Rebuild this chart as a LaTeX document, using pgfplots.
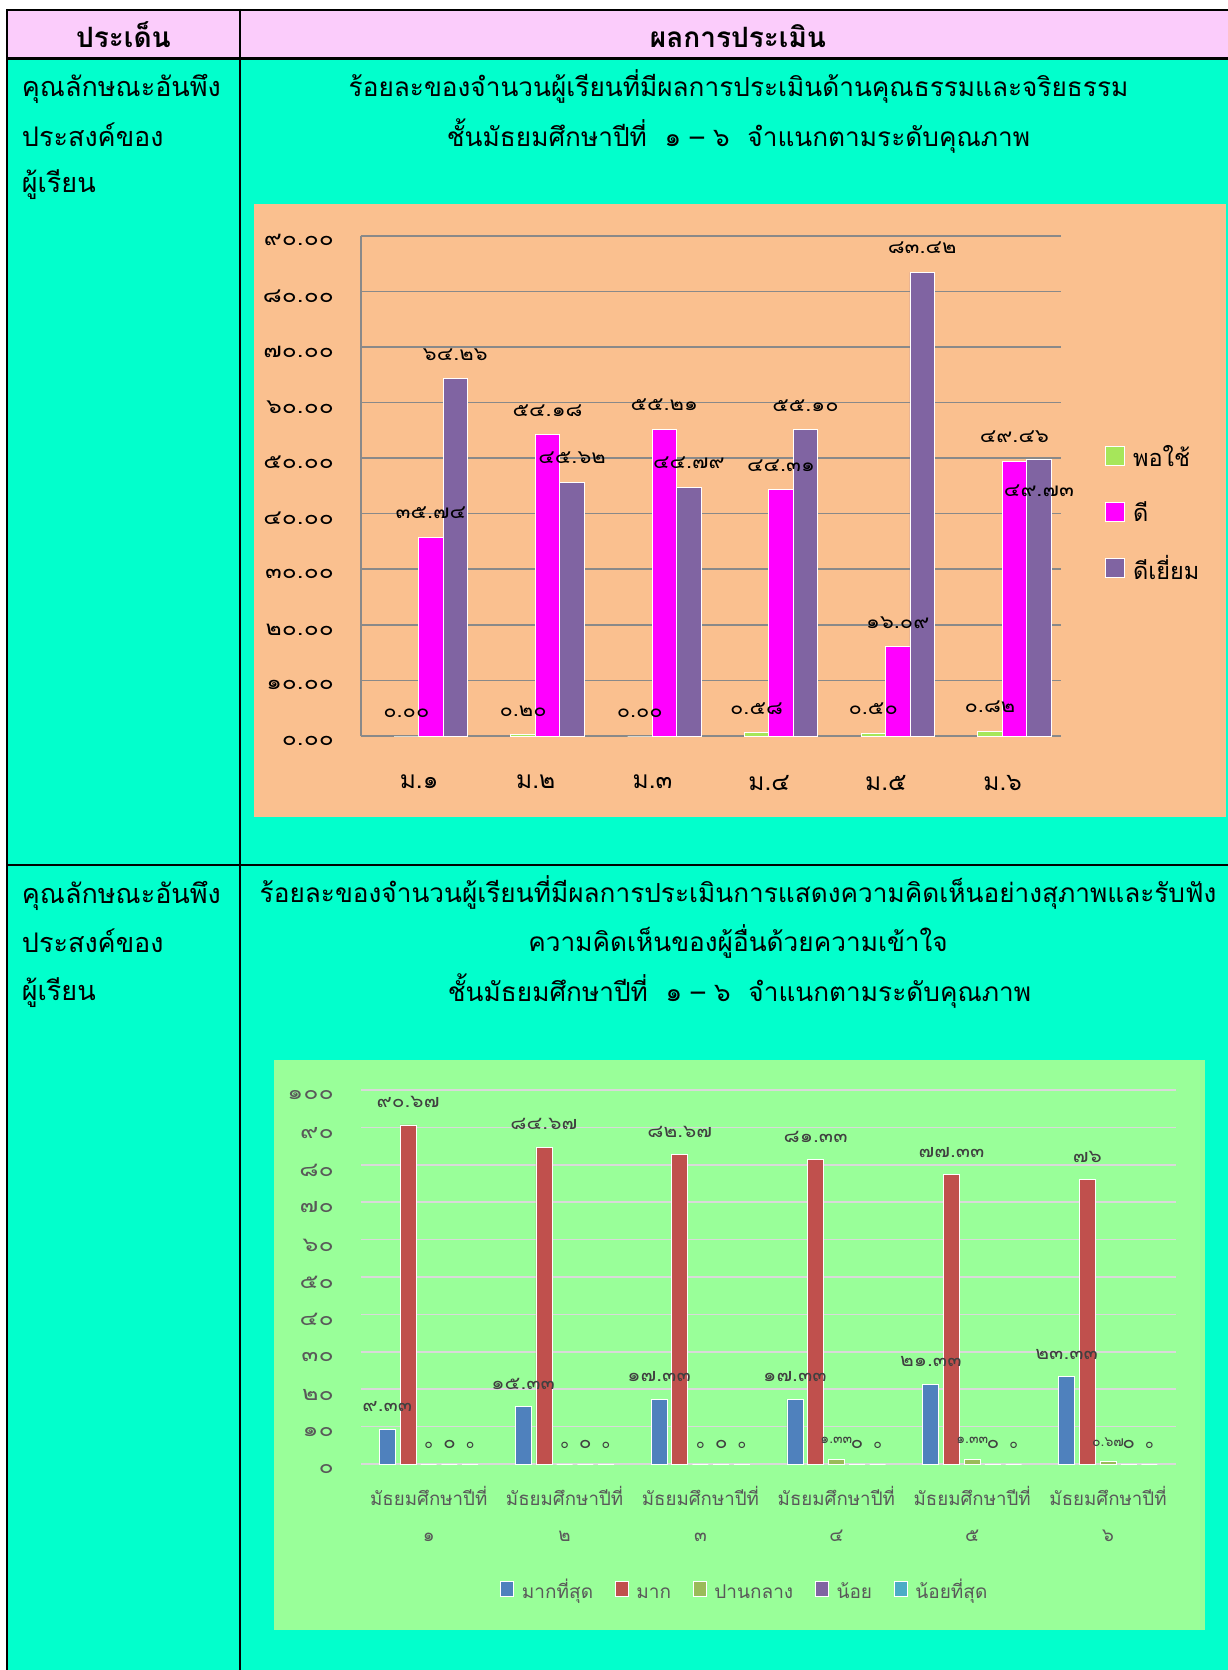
\documentclass[border=0pt]{standalone}
\usepackage{fontspec}
\setmainfont[Script=Thai]{Loma}
\newfontfamily\numA[Script=Thai, FakeStretch=1.2]{Loma}
\newfontfamily\numB[Script=Thai, FakeStretch=1.15]{Loma}
\newfontfamily\numC[Script=Thai, FakeStretch=1.25]{Loma}
\usepackage{pgfplots}
\usepackage{pgfplotstable}
\pgfplotsset{compat=1.18}

\definecolor{bgteal}{RGB}{2,255,204}
\definecolor{hdrpink}{RGB}{251,204,251}
\definecolor{orangebg}{RGB}{250,192,143}
\definecolor{greenbg}{RGB}{153,255,153}
\definecolor{gridA}{RGB}{137,137,137}
\definecolor{gridB}{RGB}{217,217,217}
\definecolor{cPor}{RGB}{166,230,90}
\definecolor{cDee}{RGB}{255,0,255}
\definecolor{cDY}{RGB}{128,100,162}
\definecolor{cB}{RGB}{79,129,189}
\definecolor{cR}{RGB}{192,80,77}
\definecolor{cG}{RGB}{155,187,89}
\definecolor{cP}{RGB}{128,100,162}
\definecolor{cC}{RGB}{75,172,198}
\definecolor{txtgray}{RGB}{89,89,89}
\definecolor{lblgray}{RGB}{64,64,64}

\newcommand\LSA{\rule[-8pt]{0pt}{30pt}}
\newcommand\LSB{\rule[-7pt]{0pt}{27pt}}

\pgfplotstableread{
x y lab
0 0.00 ๐.๐๐
1 0.20 ๐.๒๐
2 0.00 ๐.๐๐
3 0.58 ๐.๕๘
4 0.50 ๐.๕๐
5 0.82 ๐.๘๒
}\tPor
\pgfplotstableread{
x y lab
0 35.74 ๓๕.๗๔
1 54.18 ๕๔.๑๘
2 55.21 ๕๕.๒๑
3 44.31 ๔๔.๓๑
4 16.09 ๑๖.๐๙
5 49.46 ๔๙.๔๖
}\tDee
\pgfplotstableread{
x y lab dy
0 64.26 ๖๔.๒๖ 0
1 45.62 ๔๕.๖๒ 0
2 44.79 ๔๔.๗๙ 0
3 55.10 ๕๕.๑๐ 0
4 83.42 ๘๓.๔๒ 0
5 49.73 ๔๙.๗๓ -55.5
}\tDY

\pgfplotstableread{
x y lab
0 9.33 ๙.๓๓
1 15.33 ๑๕.๓๓
2 17.33 ๑๗.๓๓
3 17.33 ๑๗.๓๓
4 21.33 ๒๑.๓๓
5 23.33 ๒๓.๓๓
}\tB
\pgfplotstableread{
x y lab
0 90.67 ๙๐.๖๗
1 84.67 ๘๔.๖๗
2 82.67 ๘๒.๖๗
3 81.33 ๘๑.๓๓
4 77.33 ๗๗.๓๓
5 76 ๗๖
}\tR
\pgfplotstableread{
x y lab
0 0 ๐
1 0 ๐
2 0 ๐
3 1.33 ๑.๓๓
4 1.33 ๑.๓๓
5 0.67 ๐.๖๗
}\tG
\pgfplotstableread{
x y lab
0 0 ๐
1 0 ๐
2 0 ๐
3 0 ๐
4 0 ๐
5 0 ๐
}\tP
\pgfplotstableread{
x y lab
0 0 ๐
1 0 ๐
2 0 ๐
3 0 ๐
4 0 ๐
5 0 ๐
}\tC

\pgfplotsset{
  sqA/.style={legend image code/.code={\draw[##1, draw=white, line width=0.8pt] (0pt,-9.5pt) rectangle (19pt,9.5pt);}},
  sqB/.style={legend image code/.code={\draw[##1, draw=white, line width=0.8pt] (0pt,-7.5pt) rectangle (13pt,7.5pt);}},
}

\begin{document}
\begin{tikzpicture}
\useasboundingbox (0pt,0pt) rectangle (1228pt,-1670pt);
\begin{scope}[x=1pt,y=-1pt]
\fill[white] (0,0) rectangle (1228,1670);
\fill[bgteal] (7,9.5) rectangle (1228,1670);
\fill[hdrpink] (7,9.5) rectangle (1228,58);
\fill[orangebg] (253.5,204) rectangle (1225.5,816.7);
\fill[greenbg] (274,1059.5) rectangle (1204.5,1629.5);
\draw[line width=2pt] (6,9.7) -- (1228,9.7);
\draw[line width=2pt] (7,9) -- (7,1670);
\draw[line width=2.7pt] (6,58.5) -- (1228,58.5);
\draw[line width=2pt] (239.8,9) -- (239.8,1670);
\draw[line width=2pt] (6,865) -- (1228,865);

\node[anchor=base, font=\bfseries\fontsize{28}{28}\selectfont, inner sep=0pt] at (123.5,48) {ประเด็น};
\node[anchor=base, font=\bfseries\fontsize{28}{28}\selectfont, inner sep=0pt] at (738,48) {ผลการประเมิน};

\begin{scope}[every node/.style={anchor=base west, inner sep=0pt, font=\fontsize{27}{27}\selectfont}]
\node at (21.7,96.7) {คุณลักษณะอันพึง};
\node at (21.7,146.7) {ประสงค์ของ};
\node at (21.7,192.7) {ผู้เรียน};
\node at (21.7,903) {คุณลักษณะอันพึง};
\node at (21.7,952) {ประสงค์ของ};
\node at (21.7,1000) {ผู้เรียน};
\end{scope}
\begin{scope}[every node/.style={anchor=base, inner sep=0pt, font=\fontsize{26.2}{26.2}\selectfont}]
\node at (738.5,96.7) {ร้อยละของจำนวนผู้เรียนที่มีผลการประเมินด้านคุณธรรมและจริยธรรม};
\node at (738.5,146.7) {ชั้นมัธยมศึกษาปีที่\ \ ๑ – ๖\ \ จำแนกตามระดับคุณภาพ};
\node at (738,902) {ร้อยละของจำนวนผู้เรียนที่มีผลการประเมินการแสดงความคิดเห็นอย่างสุภาพและรับฟัง};
\node at (738,951.7) {ความคิดเห็นของผู้อื่นด้วยความเข้าใจ};
\node at (739.5,1001.7) {ชั้นมัธยมศึกษาปีที่\ \ ๑ – ๖\ \ จำแนกตามระดับคุณภาพ};
\end{scope}
\end{scope}

% Chart 1
\begin{axis}[
  at={(360.7pt,-736pt)}, anchor=south west, scale only axis,
  width=700.3pt, height=500.3pt,
  xmin=-0.5, xmax=5.5, ymin=0, ymax=90,
  axis lines*=left,
  axis line style={draw=gridA, line width=1.6pt},
  major tick length=0pt,
  ymajorgrids, grid style={draw=gridA, line width=1.6pt},
  ytick={0,10,...,90},
  yticklabels={๐.๐๐,๑๐.๐๐,๒๐.๐๐,๓๐.๐๐,๔๐.๐๐,๕๐.๐๐,๖๐.๐๐,๗๐.๐๐,๘๐.๐๐,๙๐.๐๐},
  xtick={0,1,2,3,4,5},
  xticklabels={ม.๑,ม.๒,ม.๓,ม.๔,ม.๕,ม.๖},
  yticklabel style={font=\numA\fontsize{20.5}{20.5}\selectfont, anchor=east, inner sep=0pt, xshift=-26.7pt, yshift=-4.6pt},
  xticklabel style={font=\fontsize{24.5}{24.5}\selectfont, anchor=north, inner sep=0pt, yshift=-39pt},
  ybar, bar width=24.5pt,
  point meta=explicit symbolic, nodes near coords,
  every node near coord/.append style={font=\numB\fontsize{19}{19}\selectfont, inner sep=0pt, yshift=18pt, text=black},
  clip=false,
  legend style={at={(axis description cs:1.063,0.588)}, anchor=north west, draw=none, fill=none,
    font=\fontsize{23.5}{23.5}\selectfont, row sep=28.2pt, inner sep=0pt,
    /tikz/every odd column/.append style={column sep=6pt}},
  legend cell align=left,
]
\addplot[fill=cPor, draw=white, line width=0.8pt, bar shift=-12.7pt, sqA] table[x=x,y=y,meta=lab]{\tPor};
\addlegendentry{\LSA พอใช้}
\addplot[fill=cDee, draw=white, line width=0.8pt, bar shift=11.8pt, sqA] table[x=x,y=y,meta=lab]{\tDee};
\addlegendentry{\LSA ดี}
\addplot[fill=cDY, draw=white, line width=0.8pt, bar shift=36.3pt, sqA,
  visualization depends on={\thisrow{dy} \as \labdy},
  every node near coord/.append style={yshift=\labdy pt}] table[x=x,y=y,meta=lab]{\tDY};
\addlegendentry{\LSA ดีเยี่ยม}
\end{axis}

% Chart 2
\begin{axis}[
  at={(360.8pt,-1464pt)}, anchor=south west, scale only axis,
  width=815.2pt, height=374pt,
  xmin=-0.5, xmax=5.5, ymin=0, ymax=100,
  axis line style={draw=none},
  major tick length=0pt,
  ymajorgrids, grid style={draw=gridB, line width=1.6pt},
  ytick={0,10,...,100},
  yticklabels={๐,๑๐,๒๐,๓๐,๔๐,๕๐,๖๐,๗๐,๘๐,๙๐,๑๐๐},
  xtick={0,1,2,3,4,5},
  xticklabels={{มัธยมศึกษาปีที่\\๑},{มัธยมศึกษาปีที่\\๒},{มัธยมศึกษาปีที่\\๓},{มัธยมศึกษาปีที่\\๔},{มัธยมศึกษาปีที่\\๕},{มัธยมศึกษาปีที่\\๖}},
  yticklabel style={font=\numC\fontsize{20}{20}\selectfont, text=txtgray, anchor=east, inner sep=0pt, xshift=-26.8pt, yshift=-5.3pt},
  xticklabel style={align=center, font=\fontsize{18.7}{36}\selectfont, text=txtgray, anchor=north, inner sep=0pt, yshift=-22pt},
  ybar, bar width=16pt,
  point meta=explicit symbolic, nodes near coords,
  every node near coord/.append style={font=\numB\fontsize{18.2}{18.2}\selectfont, inner sep=0pt, yshift=17pt, text=lblgray},
  clip=false,
  legend columns=5,
  legend style={at={(axis description cs:0.471,-0.334)}, anchor=center, draw=none, fill=none,
    font=\fontsize{19}{19}\selectfont, text=txtgray, inner sep=0pt,
    /tikz/every odd column/.append style={column sep=6pt},
    /tikz/every even column/.append style={column sep=19.5pt}},
]
\addplot[fill=cB, draw=white, line width=0.8pt, bar shift=-41.4pt, sqB] table[x=x,y=y,meta=lab]{\tB};
\addlegendentry{\LSB มากที่สุด}
\addplot[fill=cR, draw=white, line width=0.8pt, bar shift=-20.7pt, sqB] table[x=x,y=y,meta=lab]{\tR};
\addlegendentry{\LSB มาก}
\addplot[fill=cG, draw=white, line width=0.8pt, bar shift=0pt, sqB, every node near coord/.append style={font=\fontsize{14}{14}\selectfont, yshift=-2pt}] table[x=x,y=y,meta=lab]{\tG};
\addlegendentry{\LSB ปานกลาง}
\addplot[fill=cP, draw=white, line width=0.8pt, bar shift=20.7pt, sqB, every node near coord/.append style={yshift=-2pt}] table[x=x,y=y,meta=lab]{\tP};
\addlegendentry{\LSB น้อย}
\addplot[fill=cC, draw=white, line width=0.8pt, bar shift=41.4pt, sqB, every node near coord/.append style={font=\fontsize{14}{14}\selectfont, yshift=-2pt}] table[x=x,y=y,meta=lab]{\tC};
\addlegendentry{\LSB น้อยที่สุด}
\end{axis}
\end{tikzpicture}
\end{document}
